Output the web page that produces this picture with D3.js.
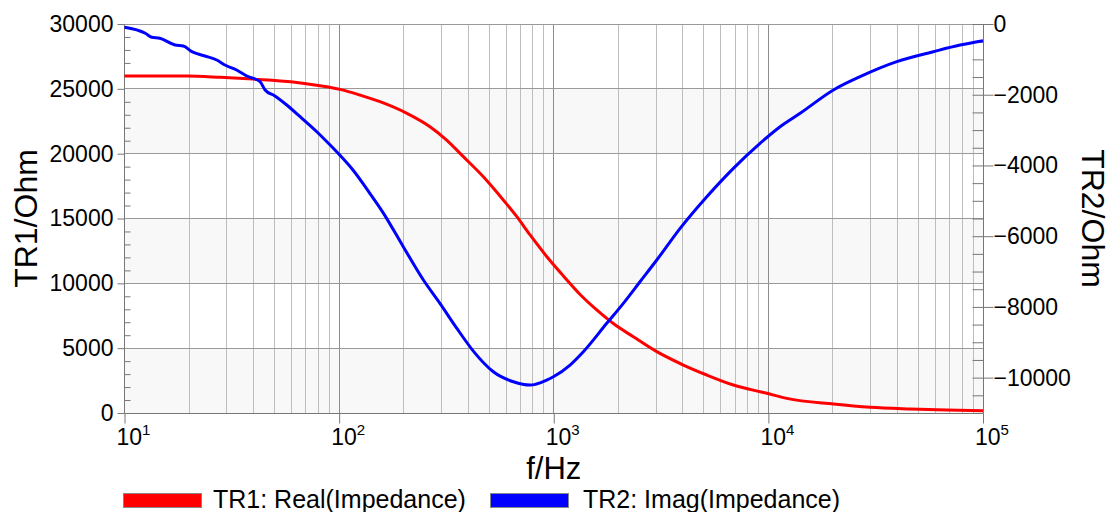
<!DOCTYPE html>
<html>
<head>
<meta charset="utf-8">
<script src="https://cdn.jsdelivr.net/npm/d3@7"></script>
<style>
  body { margin: 0; background: #fff; }
  svg text { font-family: "Liberation Sans", Arial, sans-serif; fill: #000; }
</style>
</head>
<body>
<div id="chart"></div>
<script>
// TR1: Real(Impedance)
const freqReal = [10, 19.5, 27.9, 39.7, 61, 81.5, 101, 125, 155, 207, 265, 317, 379, 470, 582, 673, 776, 927, 1109, 1327, 1586, 1895, 2349, 3020, 4018, 5165, 6870, 9830, 12190, 20100, 29800, 45700, 67800, 100000];
const realOhm = [25990, 25990, 25890, 25750, 25530, 25240, 24960, 24520, 24010, 23110, 22080, 21050, 19770, 18220, 16430, 15140, 13730, 12070, 10570, 9140, 7950, 6900, 5880, 4730, 3700, 2930, 2160, 1520, 1130, 690, 440, 310, 230, 180];

// TR2: Imag(Impedance)
const freqImag = [10, 12.5, 13.4, 14.6, 17.2, 18.8, 20.6, 23.7, 26.9, 29.4, 33.3, 37.1, 42.8, 45.2, 50.2, 57, 65.8, 78.7, 90.8, 101, 116, 139, 161, 199, 247, 295, 353, 422, 523, 649, 776, 927, 996, 1191, 1374, 1766, 2110, 2523, 3020, 3880, 5165, 6870, 9145, 11340, 14060, 20100, 26750, 39650, 58700, 78200, 100000];
const imagOhm = [-93, -263, -376, -404, -594, -622, -783, -905, -1018, -1159, -1301, -1470, -1631, -1866, -2036, -2291, -2622, -3046, -3422, -3715, -4129, -4788, -5354, -6298, -7240, -7900, -8600, -9250, -9834, -10117, -10210, -10068, -9975, -9643, -9267, -8464, -7899, -7288, -6674, -5778, -4884, -4081, -3374, -2904, -2525, -1866, -1490, -1066, -783, -594, -472];

const decades = [1, 2, 3, 4, 5];
const leftTicks = [0, 5000, 10000, 15000, 20000, 25000, 30000];
const rightTicks = [0, -2000, -4000, -6000, -8000, -10000];
const legendLabels = ["TR1: Real(Impedance)", "TR2: Imag(Impedance)"];

const W = 1110, H = 512;
const L = 124.5, R = 983, T = 24, B = 413;
const px = v => Math.round(v - 0.5) + 0.5;

const svg = d3.select("#chart").append("svg")
    .attr("width", W).attr("height", H);

const x = d3.scaleLog().domain([10, 100000]).range([L, R]);
const yL = d3.scaleLinear().domain([0, 30000]).range([B, T]);
const yR = d3.scaleLinear().domain([-11000, 0]).range([B, T]);

// alternating bands
const bands = d3.range(0, 30000, 5000).filter(v => (v / 5000) % 2 === 0);
svg.selectAll("rect.band").data(bands).enter().append("rect")
    .attr("class", "band")
    .attr("x", L).attr("width", R - L)
    .attr("y", d => yL(d + 5000)).attr("height", d => yL(d) - yL(d + 5000))
    .attr("fill", "#f8f8f8");

// vertical grid
let minorX = [];
for (let e = 1; e < 5; e++) for (let m = 2; m <= 9; m++) minorX.push(m * Math.pow(10, e));
svg.selectAll("line.vmin").data(minorX).enter().append("line")
    .attr("x1", d => px(x(d))).attr("x2", d => px(x(d)))
    .attr("y1", T).attr("y2", B)
    .attr("stroke", "#bdbdbd").attr("stroke-width", 1);
svg.selectAll("line.vmaj").data(decades).enter().append("line")
    .attr("x1", d => px(x(Math.pow(10, d)))).attr("x2", d => px(x(Math.pow(10, d))))
    .attr("y1", T).attr("y2", B)
    .attr("stroke", "#8c8c8c").attr("stroke-width", 1);

// horizontal grid
svg.selectAll("line.hgrid").data(leftTicks).enter().append("line")
    .attr("x1", L).attr("x2", R)
    .attr("y1", d => px(yL(d))).attr("y2", d => px(yL(d)))
    .attr("stroke", "#9a9a9a").attr("stroke-width", 1);

// axes lines
const axisColor = "#777";
svg.append("line").attr("x1", px(L)).attr("x2", px(L)).attr("y1", T).attr("y2", B + 0.5).attr("stroke", axisColor);
svg.append("line").attr("x1", px(R)).attr("x2", px(R)).attr("y1", T).attr("y2", B + 0.5).attr("stroke", axisColor);
svg.append("line").attr("x1", L).attr("x2", R).attr("y1", px(B)).attr("y2", px(B)).attr("stroke", axisColor);
svg.append("line").attr("x1", L).attr("x2", R).attr("y1", px(T)).attr("y2", px(T)).attr("stroke", "#999");

function styleAxis(g) {
  g.select(".domain").remove();
  g.selectAll(".tick line").attr("stroke", axisColor);
  g.selectAll(".tick text").attr("font-size", 23).attr("fill", "#000")
    .attr("font-family", "'Liberation Sans', Arial, sans-serif");
}

// left axis
svg.append("g").attr("transform", `translate(${px(L)},0)`)
    .call(d3.axisLeft(yL).tickValues(leftTicks).tickSize(7).tickPadding(4).tickFormat(d3.format("d")))
    .call(styleAxis);
svg.append("g").attr("transform", `translate(${px(L)},0)`)
    .call(d3.axisRight(yL).tickValues(d3.range(0, 30001, 1000).filter(v => v % 5000 !== 0)).tickSize(6).tickFormat(""))
    .call(styleAxis);

// right axis
svg.append("g").attr("transform", `translate(${px(R)},0)`)
    .call(d3.axisRight(yR).tickValues(rightTicks).tickSize(10).tickPadding(0).tickFormat(d3.format("d")))
    .call(styleAxis);
svg.append("g").attr("transform", `translate(${px(R)},0)`)
    .call(d3.axisLeft(yR).tickValues(d3.range(-11000, 1, 500)).tickSize(11).tickFormat(""))
    .call(styleAxis);

// bottom axis
svg.append("g").attr("transform", `translate(0,${px(B)})`)
    .call(d3.axisBottom(x).tickValues(decades.map(d => Math.pow(10, d))).tickSize(10).tickFormat(""))
    .call(styleAxis);
const xl = svg.selectAll("text.xlab").data(decades).enter().append("text")
    .attr("x", d => x(Math.pow(10, d)) - 8).attr("y", 445)
    .attr("font-size", 23);
xl.append("tspan").text("10");
xl.append("tspan").attr("dy", -10).attr("font-size", 15).text(d => d);

// curves
const lineReal = d3.line().x(d => x(d[0])).y(d => yL(d[1])).curve(d3.curveMonotoneX);
const lineImag = d3.line().x(d => x(d[0])).y(d => yR(d[1])).curve(d3.curveMonotoneX);
svg.append("path").datum(freqReal.map((f, i) => [f, realOhm[i]]))
    .attr("d", lineReal).attr("fill", "none").attr("stroke", "#ff0000").attr("stroke-width", 3);
svg.append("path").datum(freqImag.map((f, i) => [f, imagOhm[i]]))
    .attr("d", lineImag).attr("fill", "none").attr("stroke", "#0000ff").attr("stroke-width", 3);

// axis titles
svg.append("text").attr("transform", `translate(37,${(T + B) / 2}) rotate(-90)`)
    .attr("text-anchor", "middle").attr("font-size", 32).text("TR1/Ohm");
svg.append("text").attr("transform", `translate(1082,${(T + B) / 2}) rotate(90)`)
    .attr("text-anchor", "middle").attr("font-size", 32).text("TR2/Ohm");
svg.append("text").attr("x", (L + R) / 2).attr("y", 479)
    .attr("text-anchor", "middle").attr("font-size", 31).text("f/Hz");

// legend
const legendColors = ["#ff0000", "#0000ff"];
const legendX = [123, 490];
const legendTextDx = [90, 93];
const lg = svg.selectAll("g.leg").data(legendLabels).enter().append("g")
    .attr("transform", (d, i) => `translate(${legendX[i]},493)`);
lg.append("rect").attr("x", 0.5).attr("y", 0.5).attr("width", 78).attr("height", 14)
    .attr("fill", (d, i) => legendColors[i]).attr("stroke", "#888");
lg.append("text").attr("x", (d, i) => legendTextDx[i]).attr("y", 15).attr("font-size", 25).text(d => d);
</script>
</body>
</html>
